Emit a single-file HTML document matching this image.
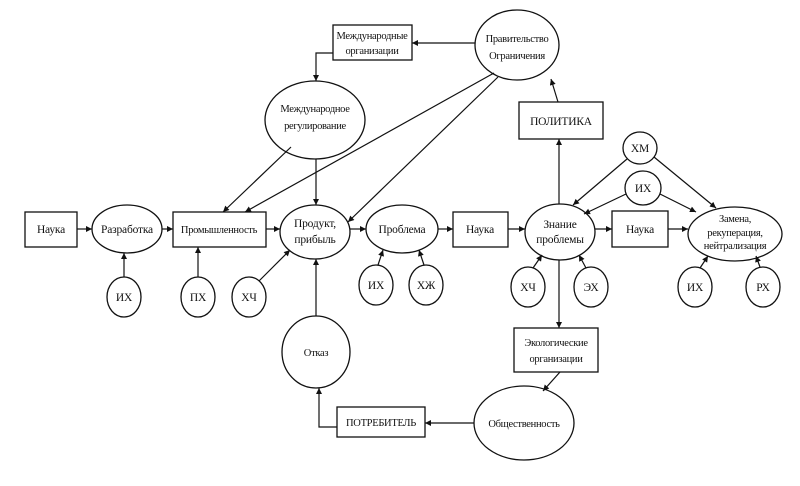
<!DOCTYPE html>
<html><head><meta charset="utf-8"><style>
html,body{margin:0;padding:0;background:#fff}
svg text{font-family:"Liberation Serif","DejaVu Serif",serif;font-size:11.5px;fill:#111;text-anchor:middle;letter-spacing:-0.2px}
svg text.s{font-size:10.5px;letter-spacing:-0.3px}
</style></head><body>
<svg width="800" height="481" viewBox="0 0 800 481" xmlns="http://www.w3.org/2000/svg">
<defs><marker id="a" viewBox="0 0 10 10" refX="10" refY="5" markerWidth="8" markerHeight="6" orient="auto" markerUnits="userSpaceOnUse"><path d="M0,0 L10,5 L0,10 z" fill="#111"/></marker></defs>
<g fill="#fff" stroke="#111" stroke-width="1.3">
<rect x="25" y="212" width="52" height="35"/>
<ellipse cx="127" cy="229" rx="35" ry="24"/>
<rect x="173" y="212" width="93" height="35"/>
<ellipse cx="315" cy="232" rx="35" ry="27"/>
<ellipse cx="402" cy="229" rx="36" ry="24"/>
<rect x="453" y="212" width="55" height="35"/>
<ellipse cx="560" cy="232" rx="35" ry="28"/>
<rect x="612" y="211" width="56" height="36"/>
<ellipse cx="735" cy="234" rx="47" ry="27"/>
<rect x="333" y="25" width="79" height="35"/>
<ellipse cx="517" cy="45" rx="42" ry="35"/>
<ellipse cx="315" cy="120" rx="50" ry="39"/>
<rect x="519" y="102" width="84" height="37"/>
<ellipse cx="640" cy="148" rx="17" ry="16"/>
<ellipse cx="643" cy="188" rx="18" ry="17"/>
<ellipse cx="124" cy="297" rx="17" ry="20"/>
<ellipse cx="198" cy="297" rx="17" ry="20"/>
<ellipse cx="249" cy="297" rx="17" ry="20"/>
<ellipse cx="376" cy="285" rx="17" ry="20"/>
<ellipse cx="426" cy="285" rx="17" ry="20"/>
<ellipse cx="528" cy="287" rx="17" ry="20"/>
<ellipse cx="591" cy="287" rx="17" ry="20"/>
<ellipse cx="695" cy="287" rx="17" ry="20"/>
<ellipse cx="763" cy="287" rx="17" ry="20"/>
<ellipse cx="316" cy="352" rx="34" ry="36"/>
<rect x="514" y="328" width="84" height="44"/>
<ellipse cx="524" cy="423" rx="50" ry="37"/>
<rect x="337" y="407" width="88" height="30"/>
</g>
<g stroke="#111" stroke-width="1.2" fill="none" marker-end="url(#a)">
<line x1="77" y1="229" x2="92" y2="229"/>
<line x1="162" y1="229" x2="173" y2="229"/>
<line x1="266" y1="229" x2="280" y2="229"/>
<line x1="350" y1="229" x2="366" y2="229"/>
<line x1="438" y1="229" x2="453" y2="229"/>
<line x1="508" y1="229" x2="525" y2="229"/>
<line x1="595" y1="229" x2="612" y2="229"/>
<line x1="668" y1="229" x2="688" y2="229"/>
<line x1="475" y1="43" x2="412" y2="43"/>
<polyline points="333,53 316,53 316,81"/>
<line x1="291" y1="147" x2="223" y2="212"/>
<line x1="316" y1="159" x2="316" y2="205"/>
<line x1="494" y1="73" x2="245" y2="212"/>
<line x1="498" y1="77" x2="348" y2="222"/>
<line x1="558" y1="102" x2="551" y2="79"/>
<line x1="559" y1="204" x2="559" y2="139"/>
<line x1="627" y1="159" x2="573" y2="205"/>
<line x1="654" y1="157" x2="716" y2="208"/>
<line x1="626" y1="194" x2="584" y2="214"/>
<line x1="660" y1="194" x2="696" y2="212"/>
<line x1="124" y1="277" x2="124" y2="253"/>
<line x1="198" y1="277" x2="198" y2="247"/>
<line x1="259" y1="281" x2="290" y2="250"/>
<line x1="378" y1="265" x2="383" y2="250"/>
<line x1="424" y1="265" x2="419" y2="250"/>
<line x1="533" y1="268" x2="542" y2="255"/>
<line x1="586" y1="268" x2="579" y2="255"/>
<line x1="700" y1="268" x2="708" y2="256"/>
<line x1="760" y1="267" x2="756" y2="256"/>
<line x1="559" y1="260" x2="559" y2="328"/>
<line x1="560" y1="372" x2="543" y2="391"/>
<line x1="474" y1="423" x2="425" y2="423"/>
<polyline points="337,427 319,427 319,388"/>
<line x1="316" y1="316" x2="316" y2="259"/>
</g>
<text x="51" y="233">Наука</text>
<text x="127" y="233">Разработка</text>
<text x="219" y="233" class="s">Промышленность</text>
<text x="315" y="227">Продукт,</text>
<text x="315" y="243">прибыль</text>
<text x="402" y="233">Проблема</text>
<text x="480" y="233">Наука</text>
<text x="560" y="228">Знание</text>
<text x="560" y="243">проблемы</text>
<text x="640" y="233">Наука</text>
<text x="735" y="222" class="s">Замена,</text>
<text x="735" y="236" class="s">рекуперация,</text>
<text x="735" y="249" class="s">нейтрализация</text>
<text x="372" y="39" class="s">Международные</text>
<text x="372" y="54" class="s">организации</text>
<text x="517" y="42" class="s">Правительство</text>
<text x="517" y="59" class="s">Ограничения</text>
<text x="315" y="112" class="s">Международное</text>
<text x="315" y="129" class="s">регулирование</text>
<text x="561" y="125">ПОЛИТИКА</text>
<text x="640" y="152">ХМ</text>
<text x="643" y="192">ИХ</text>
<text x="124" y="301">ИХ</text>
<text x="198" y="301">ПХ</text>
<text x="249" y="301">ХЧ</text>
<text x="376" y="289">ИХ</text>
<text x="426" y="289">ХЖ</text>
<text x="528" y="291">ХЧ</text>
<text x="591" y="291">ЭХ</text>
<text x="695" y="291">ИХ</text>
<text x="763" y="291">РХ</text>
<text x="316" y="356" class="s">Отказ</text>
<text x="556" y="346" class="s">Экологические</text>
<text x="556" y="362" class="s">организации</text>
<text x="524" y="427" class="s">Общественность</text>
<text x="381" y="426" class="s">ПОТРЕБИТЕЛЬ</text>
</svg>
</body></html>
